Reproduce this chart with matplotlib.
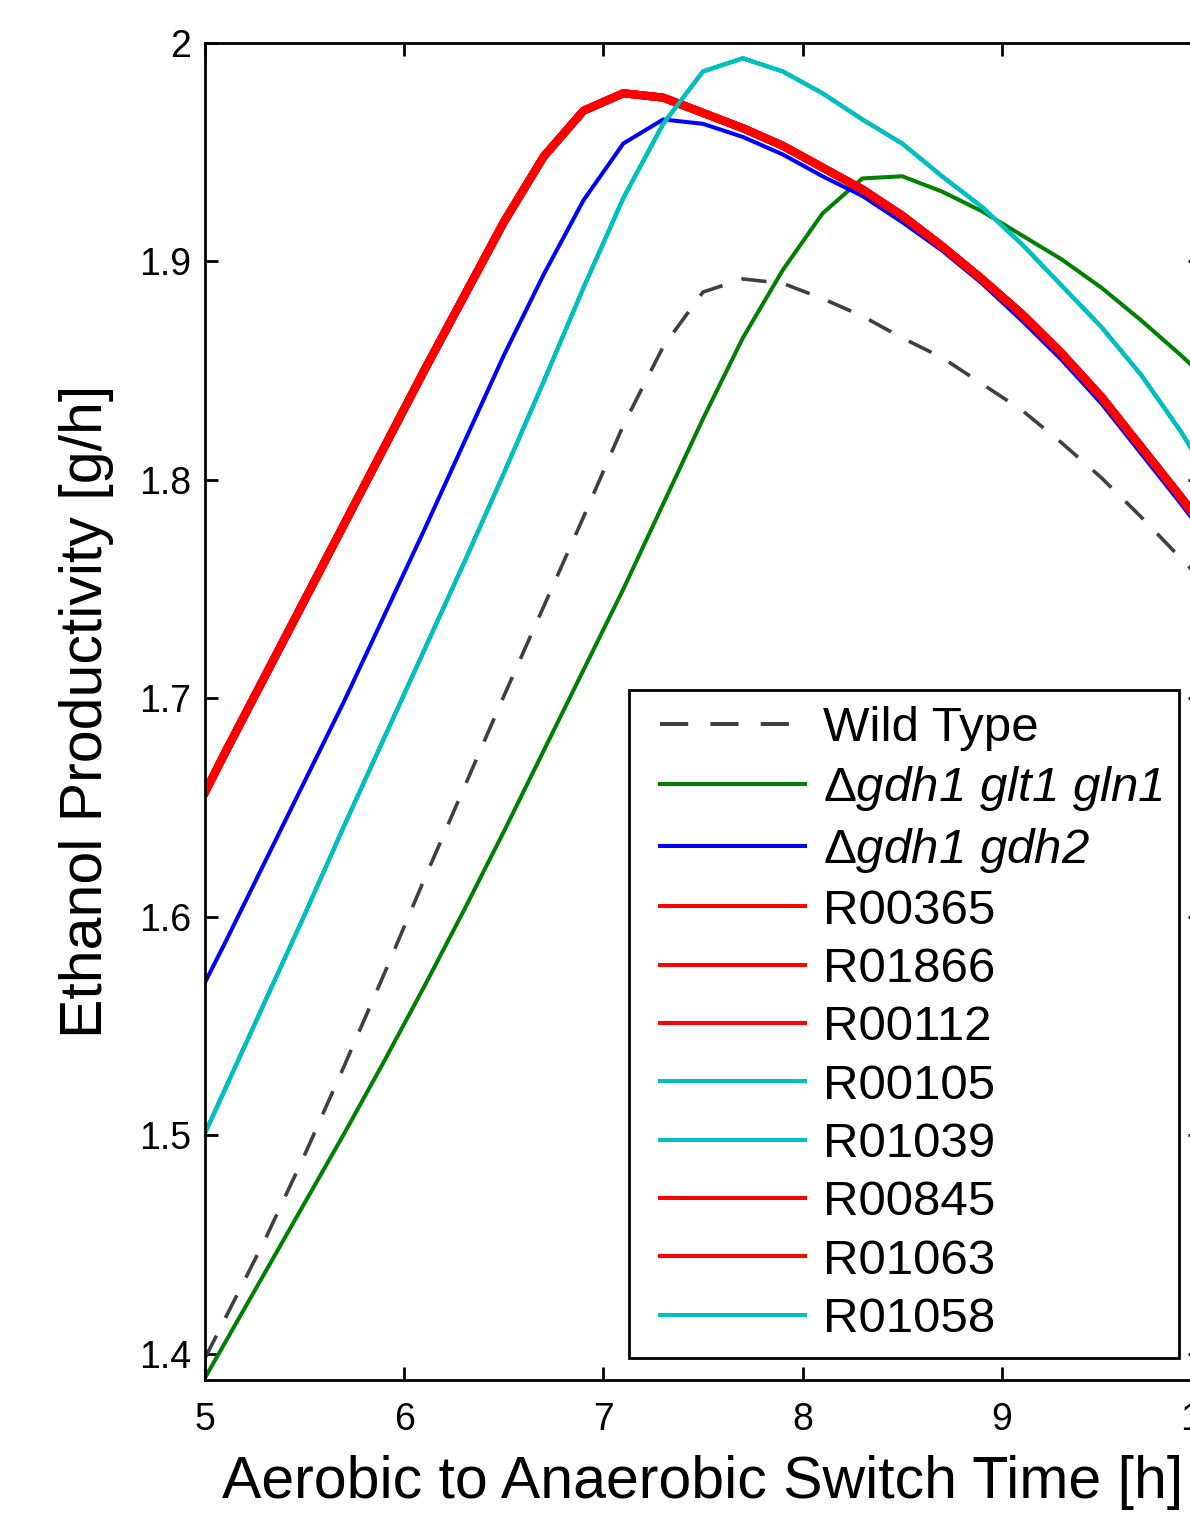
import matplotlib
matplotlib.use("Agg")
import matplotlib.pyplot as plt
from matplotlib.legend_handler import HandlerLine2D
from matplotlib.lines import Line2D
import numpy as np

plt.rcParams['font.family'] = ['Liberation Sans', 'DejaVu Sans']
plt.rcParams['mathtext.fontset'] = 'custom'
plt.rcParams['mathtext.rm'] = 'Liberation Sans:italic'
plt.rcParams['mathtext.it'] = 'Liberation Sans:italic'
plt.rcParams['mathtext.sf'] = 'Liberation Sans'

# switch time grid [h]
t = [5.0, 5.1, 5.3, 5.5, 5.7, 5.9, 6.1, 6.3, 6.5, 6.7, 6.9, 7.1, 7.3, 7.5,
     7.7, 7.9, 8.1, 8.3, 8.5, 8.7, 8.9, 9.1, 9.3, 9.5, 9.7, 9.9, 10.1]

wild_type = [1.398, 1.416, 1.452, 1.491, 1.532, 1.574, 1.617, 1.659, 1.701, 1.742,
             1.783, 1.825, 1.861, 1.886, 1.892, 1.890, 1.883, 1.875, 1.865, 1.856,
             1.844, 1.832, 1.817, 1.801, 1.783, 1.764, 1.745]
gdh1_glt1_gln1 = [1.389, 1.405, 1.437, 1.469, 1.501, 1.534, 1.568, 1.603, 1.639, 1.676,
                  1.713, 1.750, 1.789, 1.828, 1.865, 1.896, 1.922, 1.938, 1.939, 1.932,
                  1.923, 1.912, 1.901, 1.888, 1.873, 1.857, 1.840]
gdh1_gdh2 = [1.570, 1.588, 1.625, 1.662, 1.699, 1.738, 1.777, 1.817, 1.857, 1.894,
             1.928, 1.954, 1.965, 1.963, 1.957, 1.949, 1.939, 1.930, 1.918, 1.905,
             1.890, 1.873, 1.855, 1.835, 1.812, 1.789, 1.765]
red_group = [1.657, 1.675, 1.710, 1.745, 1.780, 1.815, 1.850, 1.884, 1.918, 1.948,
             1.969, 1.977, 1.975, 1.968, 1.961, 1.953, 1.943, 1.933, 1.921, 1.907,
             1.892, 1.876, 1.858, 1.838, 1.815, 1.792, 1.768]
cyan_group = [1.501, 1.521, 1.561, 1.601, 1.642, 1.682, 1.722, 1.762, 1.803, 1.845,
              1.888, 1.929, 1.963, 1.987, 1.993, 1.987, 1.977, 1.965, 1.954, 1.939,
              1.925, 1.908, 1.889, 1.870, 1.848, 1.822, 1.792]

reactions = ['R00365', 'R01866', 'R00112', 'R00105', 'R01039', 'R00845', 'R01063', 'R01058']
reaction_group = ['red', 'red', 'red', 'cyan', 'cyan', 'red', 'red', 'cyan']

c_red = '#FF0000'
c_cyan = '#00BFBF'
c_green = '#008000'
c_blue = '#0000FF'
c_wt = '#404040'

fig = plt.figure(figsize=(11.9, 15.13), dpi=100)
ax = fig.add_axes([205/1190, 1 - 1380/1513, (1201 - 205)/1190, (1380 - 43)/1513])

ax.plot(t, wild_type, color=c_wt, linestyle=(0, (7, 5.5)), lw=2.6, label='Wild Type')
ax.plot(t, gdh1_glt1_gln1, color=c_green, lw=2.9,
        label=r'$\mathsf{\Delta}\mathrm{gdh1\ glt1\ gln1}$')
ax.plot(t, gdh1_gdh2, color=c_blue, lw=2.9,
        label=r'$\mathsf{\Delta}\mathrm{gdh1\ gdh2}$')
for name, grp in zip(reactions, reaction_group):
    if grp == 'red':
        ax.plot(t, red_group, color=c_red, lw=5.8, label=name)
    else:
        ax.plot(t, cyan_group, color=c_cyan, lw=2.9, label=name)

ax.set_xlim(5, 10)
ax.set_ylim(1.388, 2.0)
ax.set_xticks([5, 6, 7, 8, 9, 10])
ax.set_yticks([1.4, 1.5, 1.6, 1.7, 1.8, 1.9, 2.0])
ax.set_yticklabels(['1.4', '1.5', '1.6', '1.7', '1.8', '1.9', '2'])
ax.tick_params(direction='in', length=9.5, width=2, top=True, right=True,
               labelsize=27)
ax.tick_params(axis='x', pad=16)
ax.tick_params(axis='y', pad=10)
for sp in ax.spines.values():
    sp.set_linewidth(2)

ax.set_xlabel('Aerobic to Anaerobic Switch Time [h]', fontsize=42.5, labelpad=12)
ax.set_ylabel('Ethanol Productivity [g/h]', fontsize=42.5, labelpad=18)

leg = ax.legend(loc='upper left', bbox_to_anchor=(629/1190, 1 - 690/1513),
                bbox_transform=fig.transFigure, fontsize=35.5, frameon=True,
                fancybox=False, edgecolor='black', framealpha=1,
                handlelength=3.25, handletextpad=0.36, labelspacing=0.27,
                borderpad=0.32, borderaxespad=0,
                handler_map={Line2D: HandlerLine2D(xpad=0.31)})
leg.get_frame().set_linewidth(2)
for ln in leg.get_lines():
    ln.set_linewidth(2.9)

fig.savefig('out.png', dpi=100)
